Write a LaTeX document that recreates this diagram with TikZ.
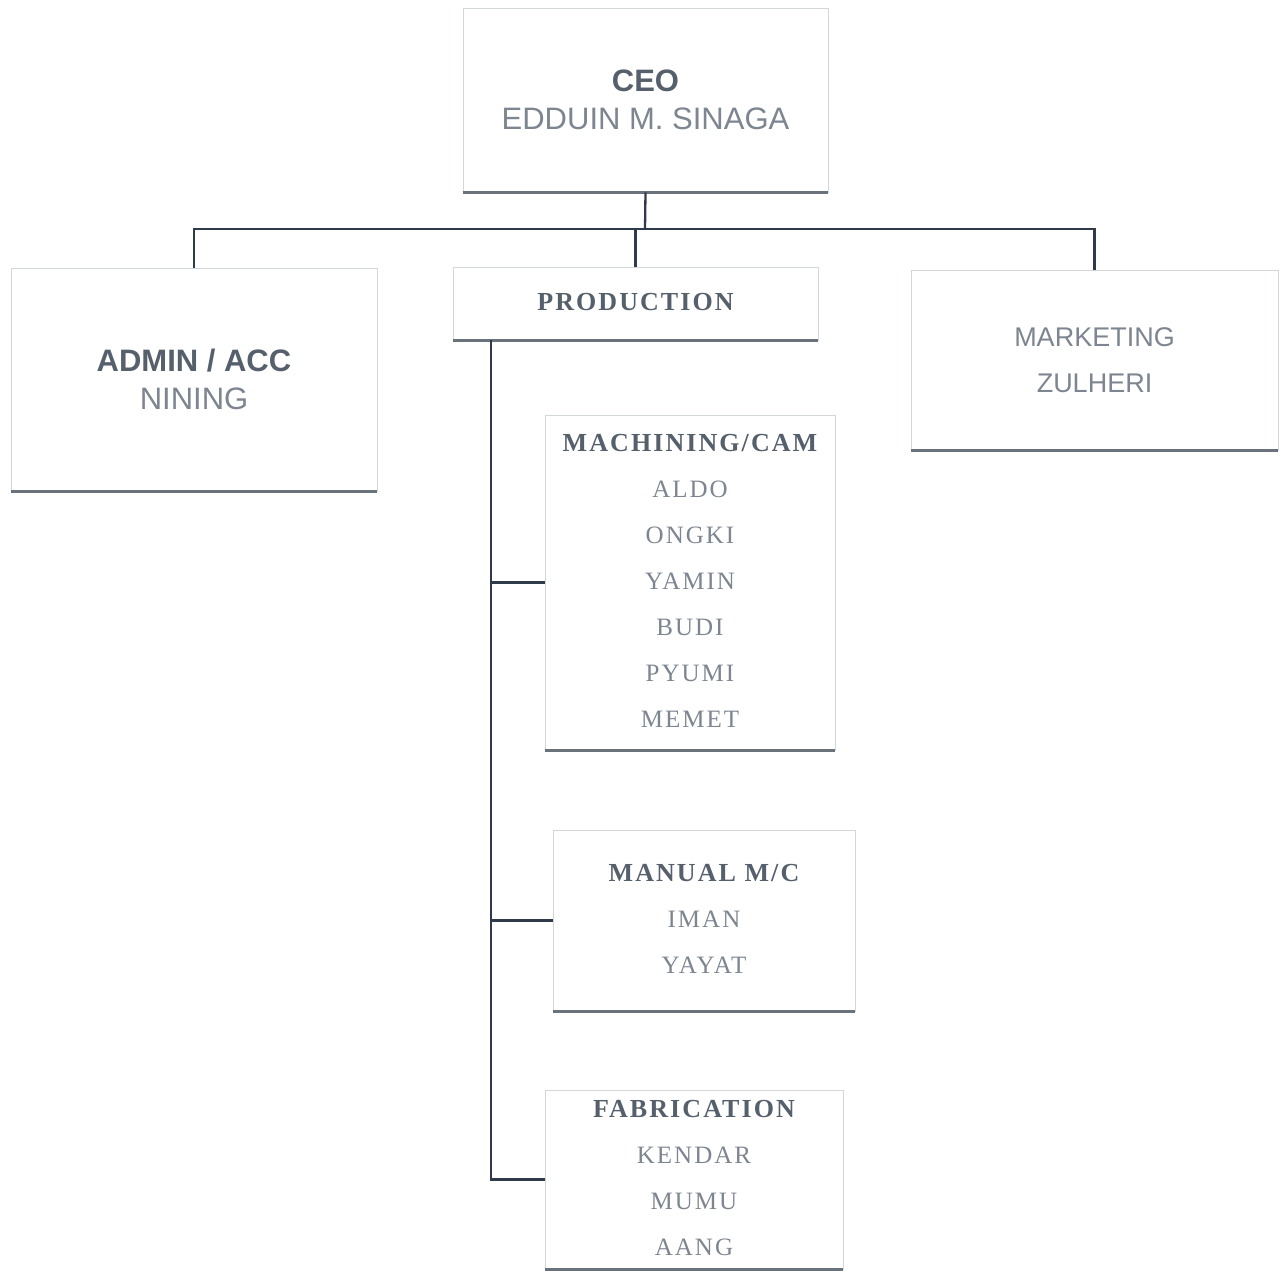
\documentclass[tikz,border=0pt]{standalone}
\usepackage{fontspec}
\newfontfamily\serf{Liberation Serif}[LetterSpace=8]
\newfontfamily\sanf{Liberation Sans}
\definecolor{boldc}{HTML}{56606C}
\definecolor{regc}{HTML}{7D8590}
\definecolor{linec}{HTML}{2F3A4A}
\definecolor{sidec}{HTML}{D3D7DB}
\definecolor{botc}{HTML}{6A727C}
\tikzset{
  bottomline/.style={draw=botc, line width=2.2pt},
  box/.style={draw=sidec, line width=0.9pt, inner sep=0pt, align=center,
    append after command={(\tikzlastnode.south west) edge[bottomline] (\tikzlastnode.south east)}},
  serbox/.style={box, text=regc, font=\serf\fontsize{25}{46}\selectfont, text depth=4pt},
  conn/.style={draw=linec, line width=2.3pt},
}
\newcommand{\hd}[1]{{\color{boldc}\fontsize{26}{46}\selectfont\bfseries #1}}
\begin{document}
\begin{tikzpicture}[x=1pt,y=-1pt]
\useasboundingbox (0,0) rectangle (1285,1270);
\fill[white] (0,0) rectangle (1285,1270);

\node[box, minimum width=365pt, minimum height=184pt, text=regc,
  font=\sanf\fontsize{31}{38}\selectfont] (ceo) at (645.5,100)
  {{\color{boldc}\bfseries CEO}\\EDDUIN M. SINAGA};
\node[box, minimum width=366pt, minimum height=223pt, text=regc,
  font=\sanf\fontsize{31}{38}\selectfont] (admin) at (194,379.5)
  {{\color{boldc}\bfseries ADMIN / ACC}\\NINING};
\node[serbox, minimum width=365pt, minimum height=73pt] (prod) at (635.5,303.5)
  {\hd{PRODUCTION}};
\node[box, minimum width=367pt, minimum height=180pt, text=regc,
  font=\sanf\fontsize{27}{46}\selectfont] (mkt) at (1094.5,360)
  {MARKETING\\ZULHERI};
\node[serbox, minimum width=290pt, minimum height=335pt] (mach) at (690,582.5)
  {\hd{MACHINING/CAM}\\ALDO\\ONGKI\\YAMIN\\BUDI\\PYUMI\\MEMET};
\node[serbox, minimum width=302pt, minimum height=181pt] (man) at (704,920.5)
  {\hd{MANUAL M/C}\\IMAN\\YAYAT};
\node[serbox, minimum width=298pt, minimum height=179pt] (fab) at (694,1179.5)
  {\hd{FABRICATION}\\KENDAR\\MUMU\\AANG};

\coordinate (bus) at (645,229);
\coordinate (trunk) at (491,340);
\draw[conn] (ceo.south) -- (bus);
\draw[conn] (admin.north) |- (bus) -| (mkt.north);
\draw[conn] (prod.north) -- (prod.north |- bus);
\draw[conn] (trunk) |- (fab.west);
\draw[conn] (trunk |- mach.west) -- (mach.west);
\draw[conn] (trunk |- man.west) -- (man.west);
\end{tikzpicture}
\end{document}
